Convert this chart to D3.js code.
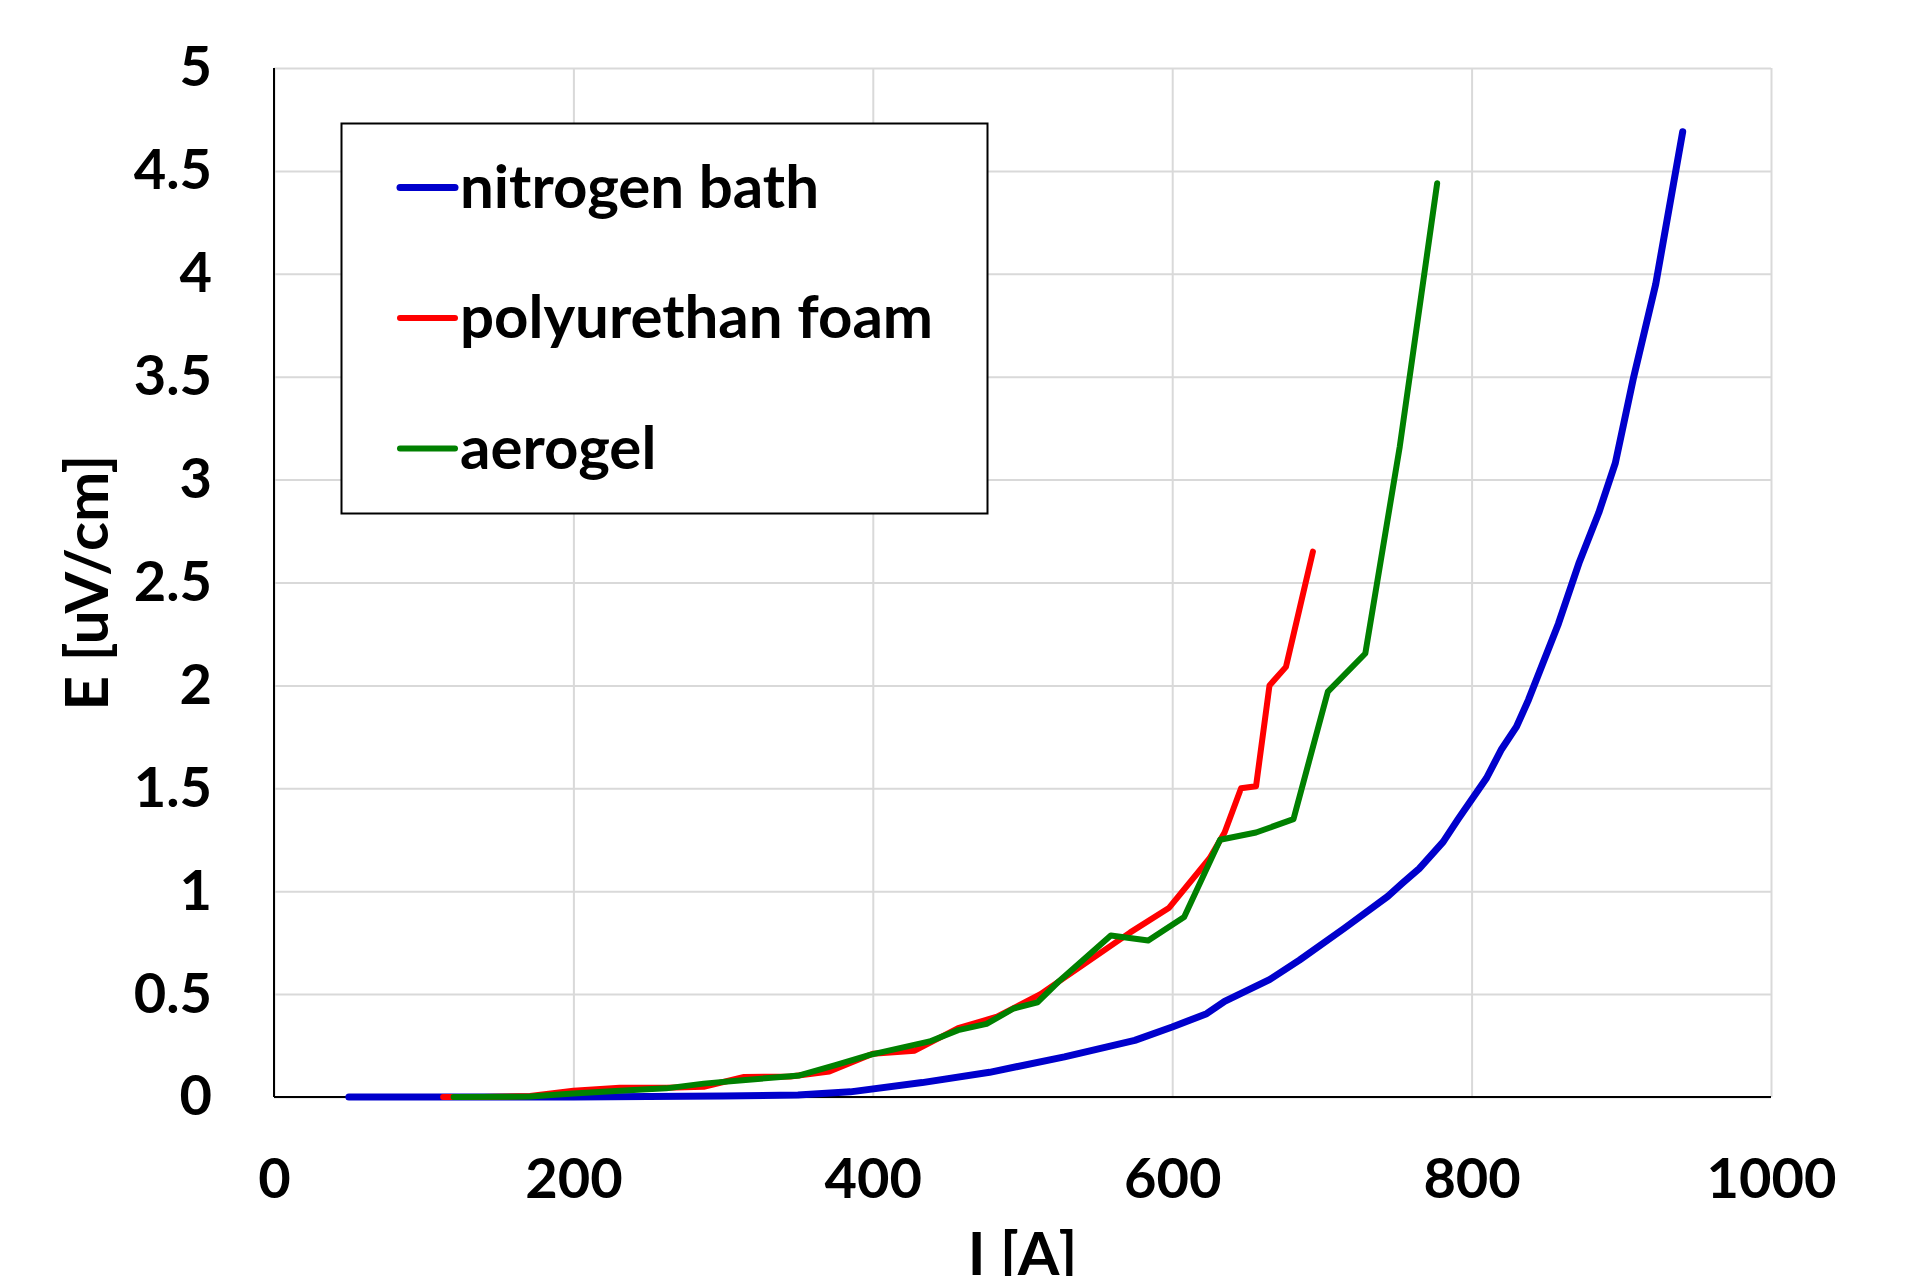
<!DOCTYPE html>
<html>
<head>
<meta charset="utf-8">
<script src="https://cdn.jsdelivr.net/npm/d3@7"></script>
<style>
  html, body { margin: 0; padding: 0; background: #fff; }
  svg { display: block; }
</style>
</head>
<body>
<svg id="chart"></svg>
<script>
// Tick labels
var xTickValues = [0, 200, 400, 600, 800, 1000];
var yTickValues = [0, 0.5, 1, 1.5, 2, 2.5, 3, 3.5, 4, 4.5, 5];
var yTickLabels = ["0", "0.5", "1", "1.5", "2", "2.5", "3", "3.5", "4", "4.5", "5"];

// Series names (legend order)
var seriesNames = ["nitrogen bath", "polyurethan foam", "aerogel"];

// nitrogen bath: current I [A] and field E [uV/cm]
var nitrogenI = [50, 100, 150, 200, 250, 300, 350, 385, 433, 478, 528, 575, 600, 623, 635, 665, 685, 715, 744, 754, 765, 781, 791, 810, 820, 830, 838, 858, 872, 885, 896, 908, 923, 941];
var nitrogenE = [0, 0, 0, 0, 0.002, 0.005, 0.01, 0.025, 0.07, 0.12, 0.195, 0.275, 0.34, 0.405, 0.465, 0.57, 0.665, 0.82, 0.975, 1.04, 1.11, 1.24, 1.35, 1.55, 1.69, 1.8, 1.93, 2.3, 2.6, 2.84, 3.08, 3.49, 3.95, 4.69];

// polyurethan foam
var foamI = [113, 140, 171, 200, 231, 262, 287, 314, 345, 371, 400, 428, 457, 483, 512, 540, 572, 598, 625, 635, 646, 656, 665, 676, 685, 694];
var foamE = [0, 0, 0.005, 0.03, 0.045, 0.045, 0.05, 0.097, 0.1, 0.124, 0.21, 0.225, 0.335, 0.39, 0.5, 0.64, 0.8, 0.92, 1.16, 1.285, 1.5, 1.51, 2.0, 2.09, 2.37, 2.65];

// aerogel
var aerogelI = [120, 171, 200, 231, 262, 287, 311, 351, 375, 398, 438, 457, 476, 494, 510, 524, 559, 584, 608, 632, 656, 681, 704, 729, 752, 777];
var aerogelE = [0, 0.002, 0.017, 0.03, 0.042, 0.065, 0.08, 0.105, 0.155, 0.205, 0.27, 0.325, 0.355, 0.43, 0.46, 0.56, 0.785, 0.76, 0.875, 1.25, 1.285, 1.35, 1.97, 2.155, 3.16, 4.44];

var config = {
  width: 1909,
  height: 1276,
  plotLeft: 274,
  plotRight: 1771,
  plotTop: 68,
  plotBottom: 1097,
  font: "Lato, 'Open Sans', 'DejaVu Sans', sans-serif",
  fontSize: 56,      // tick labels
  titleFontSize: 60, // legend and axis titles
  colors: ["#0000cc", "#ff0000", "#008000"],
  lineWidths: [7, 6, 6],
  gridColor: "#d9d9d9",
};

var svg = d3.select("#chart")
  .attr("width", config.width)
  .attr("height", config.height)
  .style("font-family", config.font);

var x = d3.scaleLinear().domain([0, 1000]).range([config.plotLeft, config.plotRight]);
var y = d3.scaleLinear().domain([0, 5]).range([config.plotBottom, config.plotTop]);

var plotW = config.plotRight - config.plotLeft;
var plotH = config.plotBottom - config.plotTop;

// Vertical gridlines + x tick labels
var xAxis = svg.append("g")
  .attr("transform", "translate(0," + config.plotBottom + ")")
  .call(d3.axisBottom(x).tickValues(xTickValues).tickSize(-plotH).tickPadding(61).tickFormat(d3.format("d")));
xAxis.select(".domain").remove();
xAxis.selectAll(".tick line").attr("stroke", config.gridColor).attr("stroke-width", 2);
xAxis.selectAll(".tick text")
  .attr("font-family", config.font)
  .attr("font-size", config.fontSize)
  .attr("font-weight", "bold")
  .attr("fill", "#000");

// Horizontal gridlines + y tick labels
var yAxis = svg.append("g")
  .attr("transform", "translate(" + config.plotLeft + ",0)")
  .call(d3.axisLeft(y).tickValues(yTickValues).tickSize(-plotW).tickPadding(62)
    .tickFormat(function(d, i) { return yTickLabels[i]; }));
yAxis.select(".domain").remove();
yAxis.selectAll(".tick line").attr("stroke", config.gridColor).attr("stroke-width", 2);
yAxis.selectAll(".tick text")
  .attr("font-family", config.font)
  .attr("font-size", config.fontSize)
  .attr("font-weight", "bold")
  .attr("fill", "#000");

// Axis lines (left and bottom)
svg.append("line")
  .attr("x1", x(0)).attr("x2", x(0))
  .attr("y1", y(5)).attr("y2", y(0))
  .attr("stroke", "#000").attr("stroke-width", 2);
svg.append("line")
  .attr("x1", x(0)).attr("x2", x(1000))
  .attr("y1", y(0)).attr("y2", y(0))
  .attr("stroke", "#000").attr("stroke-width", 2);

// Lines
var series = [
  { name: seriesNames[0], I: nitrogenI, E: nitrogenE },
  { name: seriesNames[1], I: foamI, E: foamE },
  { name: seriesNames[2], I: aerogelI, E: aerogelE },
];

var line = d3.line()
  .x(function(d) { return x(d[0]); })
  .y(function(d) { return y(d[1]); });

// draw blue first, then red, then green on top
series.forEach(function(s, i) {
  var pts = s.I.map(function(v, j) { return [v, s.E[j]]; });
  svg.append("path")
    .attr("d", line(pts))
    .attr("fill", "none")
    .attr("stroke", config.colors[i])
    .attr("stroke-width", config.lineWidths[i])
    .attr("stroke-linejoin", "round")
    .attr("stroke-linecap", "round");
});

// Legend
var legend = svg.append("g");
legend.append("rect")
  .attr("x", 341.5).attr("y", 123.5)
  .attr("width", 646).attr("height", 390)
  .attr("fill", "#fff")
  .attr("stroke", "#000")
  .attr("stroke-width", 2);

series.forEach(function(s, i) {
  var ly = 187.5 + i * 130.5;
  legend.append("line")
    .attr("x1", 400).attr("x2", 455)
    .attr("y1", ly).attr("y2", ly)
    .attr("stroke", config.colors[i])
    .attr("stroke-width", config.lineWidths[i])
    .attr("stroke-linecap", "round");
  legend.append("text")
    .attr("x", 460)
    .attr("y", ly + 20)
    .attr("font-size", config.titleFontSize)
    .attr("font-weight", "bold")
    .attr("fill", "#000")
    .text(s.name);
});

// Axis titles
svg.append("text")
  .attr("transform", "translate(108," + ((config.plotTop + config.plotBottom) / 2) + ") rotate(-90)")
  .attr("text-anchor", "middle")
  .attr("font-size", config.titleFontSize)
  .attr("font-weight", "bold")
  .attr("fill", "#000")
  .text("E [uV/cm]");

svg.append("text")
  .attr("x", (config.plotLeft + config.plotRight) / 2)
  .attr("y", 1275)
  .attr("text-anchor", "middle")
  .attr("font-size", config.titleFontSize)
  .attr("font-weight", "bold")
  .attr("fill", "#000")
  .text("I [A]");
</script>
</body>
</html>
